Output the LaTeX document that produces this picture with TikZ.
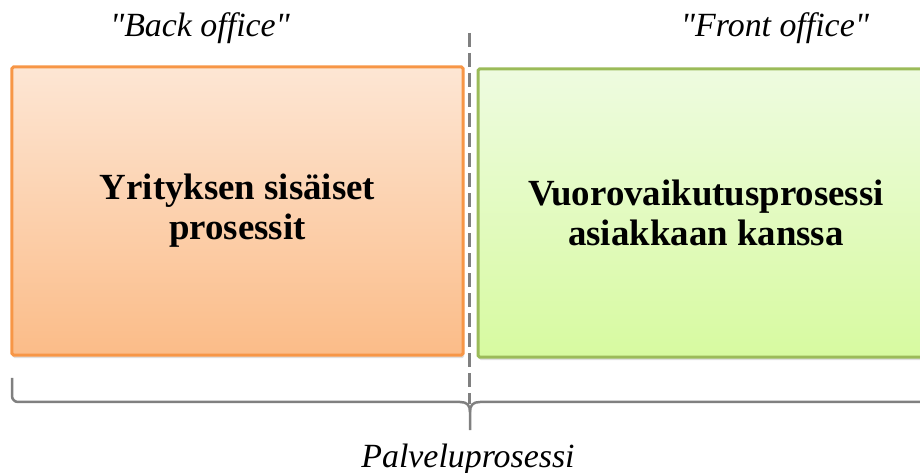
\documentclass[tikz,border=0pt]{standalone}
\usepackage{fontspec}
\setmainfont{Liberation Serif}
\usetikzlibrary{shadows}
\definecolor{backline}{RGB}{247,150,70}
\definecolor{backtop}{RGB}{253,230,212}
\definecolor{backbottom}{RGB}{251,188,136}
\definecolor{frontline}{RGB}{155,187,89}
\definecolor{fronttop}{RGB}{238,251,224}
\definecolor{frontbottom}{RGB}{215,250,160}
\definecolor{rulegray}{RGB}{128,128,128}
\begin{document}
\begin{tikzpicture}[x=1bp,y=-1bp]
\tikzstyle{stagebox}=[draw,line width=3bp,rounded corners=1.5bp,minimum height=288bp,
  align=center,font=\bfseries\fontsize{37}{40}\selectfont,
  drop shadow={shadow xshift=1bp,shadow yshift=-3bp,opacity=0.25}]
\tikzstyle{sidelabel}=[anchor=base,font=\itshape\fontsize{34}{40}\selectfont]
\tikzstyle{divider}=[rulegray,line width=3bp,dash pattern=on 14bp off 6bp]
\tikzstyle{bracket}=[rulegray,line width=2.5bp]
\useasboundingbox (0,0) rectangle (920,473);
\clip (0,0) rectangle (920,473);
%\fill[white] (0,0) rectangle (920,473);
\node[stagebox,draw=backline,top color=backtop,bottom color=backbottom,minimum width=451bp] (back) at (237.5,211) {Yrityksen sisäiset\\prosessit};
\node[stagebox,draw=frontline,top color=fronttop,bottom color=frontbottom,minimum width=456bp] (front) at (706,213) {Vuorovaikutusprosessi\\asiakkaan kanssa};
\node[sidelabel] (backlbl) at (200,37) {\textquotedbl Back office\textquotedbl};
\node[sidelabel] (frontlbl) at (775,37) {\textquotedbl Front office\textquotedbl};
\node[sidelabel] (servlbl) at (468,467) {Palveluprosessi};
% dashed divider
\coordinate (divtop) at (469,33);
\coordinate (divbot) at (469,404);
\draw[divider] (divtop) -- (divbot);
% brace under both boxes
\coordinate (bl) at (12,378);
\coordinate (br) at (928,378);
\coordinate (tip) at (470,430);
\draw[bracket,rounded corners=6bp] (bl) -- (12,402) -- (460,402);
\draw[bracket] (460,402) .. controls (467,402) and (470,405) .. (470,412) -- (tip);
\draw[bracket] (470,412) .. controls (470,405) and (473,402) .. (480,402);
\draw[bracket,rounded corners=6bp] (480,402) -- (928,402) -- (br);
\end{tikzpicture}
\end{document}
